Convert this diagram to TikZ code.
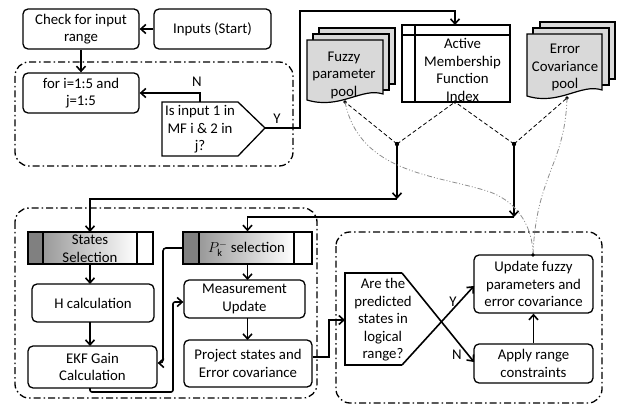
\documentclass[tikz,border=0pt]{standalone}
\usepackage{fontspec}
\setmainfont{Carlito}
\usetikzlibrary{arrows.meta}
\definecolor{docgray}{HTML}{D9D9D9}
\begin{document}
\begin{tikzpicture}[x=1pt,y=-1pt,
  font=\fontsize{14.8}{17.5}\selectfont,
  box/.style={draw, line width=1.3pt, rounded corners=5pt, align=center, inner sep=0pt},
  txt/.style={align=center, inner sep=0pt},
  conn/.style={line width=1.6pt, -{Straight Barb[length=5pt,width=9pt]}},
  plain/.style={line width=1.6pt},
  outl/.style={line width=1.3pt},
  region/.style={line width=1.3pt, rounded corners=14pt, dash pattern=on 7pt off 3pt on 1.5pt off 3pt},
  dline/.style={line width=0.8pt, dash pattern=on 4pt off 2.5pt},
  gline/.style={line width=0.8pt, black!45, dash pattern=on 5pt off 2pt on 1pt off 2pt on 1pt off 2pt},
  lbl/.style={inner sep=0pt},
  docst/.style={draw, line width=1.2pt, fill=docgray},
]
\useasboundingbox (0,0) rectangle (621,406);

% ---------- regions ----------
\draw[region] (15,62) rectangle (293,166);
\draw[region] (15,208) rectangle (317,398);
\draw[region] (336,232) rectangle (602,403);

% ---------- top part ----------
\node[box, minimum width=116pt, minimum height=40pt] (check) at (81,29) {Check for input\\range};
\node[box, minimum width=117pt, minimum height=40pt] (inputs) at (212.5,29) {Inputs (Start)};
\node[box, minimum width=116pt, minimum height=40pt] (for) at (81,93) {for i=1:5 and\\j=1:5};

\draw[outl] (162,102) -- (238,102) -- (265,128) -- (238,156) -- (162,156) -- cycle;
\node[txt] (dec1) at (200,129.5) {Is input 1 in\\MF i \& 2 in\\j?};
\coordinate (dec1tip) at (265,128);
\coordinate (dec1top) at (200,102);

\draw[conn] (inputs.west) -- (check.east);
\draw[conn] (check.south) -- (for.north);
\draw[conn] (dec1top) |- (for.east);
\node[lbl] (nlab) at (197,82) {N};
\node[lbl] (ylab) at (277,119) {Y};

% ---------- pools ----------
% fuzzy
\draw[docst] (319,28) rectangle (395,84);
\draw[docst] (313,34) rectangle (389,90);
\draw[docst] (307,40) -- (383,40) -- (383,94) .. controls (362,87) and (340,110) .. (307,100) -- cycle;
\node[txt] (fuzzy) at (344,75) {Fuzzy\\parameter\\pool};
\coordinate (fuzzyb) at (345,102);
% error
\draw[docst] (540,22) rectangle (615,79);
\draw[docst] (533,28) rectangle (609,85);
\draw[docst] (527,34) -- (602,34) -- (602,90) .. controls (581,83) and (559,106) .. (527,96) -- cycle;
\node[txt] (error) at (565,67.5) {Error\\Covariance\\pool};
\coordinate (errorb) at (567,98);
% active MF index
\node[draw, line width=1.3pt, minimum width=108pt, minimum height=77pt, inner sep=0pt] (amfi) at (456,63.5) {};
\draw[outl] (402,35) -- (510,35);
\draw[outl] (415,25) -- (415,102);
\node[txt] (amfit) at (462.5,70) {Active\\Membership\\Function\\Index};
\coordinate (amfib) at (455,102);
\coordinate (amfitop) at (455,25);

% Y connector to AMFI
\coordinate (ya) at (300,128);
\coordinate (yb) at (300,11);
\draw[conn] (dec1tip) -- (ya) -- (yb) -| (amfitop);

% junctions
\coordinate (jL) at (397,144);
\coordinate (jR) at (514,144);
\draw[dline] (jL) -- (fuzzyb);
\draw[dline] (jL) -- (amfib);
\draw[dline] (jR) -- (amfib);
\draw[dline] (jR) -- (errorb);
\fill (jL) circle (2.2pt);
\fill (jR) circle (2.2pt);
\fill (fuzzyb) circle (1.8pt);
\fill (amfib) circle (1.8pt);
\fill (errorb) circle (1.8pt);

% ---------- bottom-left ----------
\fill[black!50] (28,232) rectangle (43,264);
\shade[left color=black!40, right color=white] (43,232) rectangle (137,264);
\node[draw, line width=1.3pt, minimum width=125pt, minimum height=32pt, inner sep=0pt] (states) at (90.5,248) {};
\draw[outl] (43,232) -- (43,264);
\draw[outl] (137,232) -- (137,264);
\node[txt] (statest) at (90,249) {States\\Selection};

\fill[black!50] (183,232) rectangle (199,264);
\shade[left color=black!40, right color=white] (199,232) rectangle (294,264);
\node[draw, line width=1.3pt, minimum width=129pt, minimum height=32pt, inner sep=0pt] (pk) at (247.5,248) {};
\draw[outl] (199,232) -- (199,264);
\draw[outl] (294,232) -- (294,264);
\node[txt] (pkt) at (246.5,249) {$P_{\mathrm{k}}^{-}$ selection};

\node[box, minimum width=122pt, minimum height=38pt] (hcalc) at (93,303) {H calculation};
\node[box, minimum width=129pt, minimum height=42pt] (ekf) at (92.5,367) {EKF Gain\\Calculation};
\node[box, minimum width=121pt, minimum height=38pt] (meas) at (244.5,299) {Measurement\\Update};
\node[box, minimum width=128pt, minimum height=47pt] (proj) at (248,363.5) {Project states and\\Error covariance};

\coordinate (hL) at (397,199);
\coordinate (hR) at (514,217);
\draw[conn] (jL) -- (hL);
\draw[conn] (hL) -| (90,232);
\draw[conn] (jR) -- (hR);
\draw[conn] (hR) -| (pk.north);

\draw[conn] (90,264) -- (90,284);
\draw[conn] (90,322) -- (90,346);
\draw[conn] (pk.south) -- (247.5,280);
\draw[conn] (247.5,318) -- (247.5,340);

\draw[conn, rounded corners=3pt] (pk.west) -- (163,248) -- (163,363) -- (ekf.east |- 0,363);
\draw[conn, rounded corners=2pt] (90,388) -- (90,392) -- (173,392) -- (173,302) -- (meas.west |- 0,302);

% ---------- bottom-right ----------
\node[box, minimum width=119pt, minimum height=58pt] (update) at (533.5,284) {Update fuzzy\\parameters and\\error covariance};
\node[box, minimum width=119pt, minimum height=39pt] (apply) at (533.5,363.5) {Apply range\\constraints};

\draw[outl] (402,365) -- (345,365) -- (345,273) -- (402,273);
\node[txt] (dec2) at (383,320) {Are the\\predicted\\states in\\logical\\range?};
\coordinate (dec2tl) at (402,273);
\coordinate (dec2bl) at (402,365);
\coordinate (dec2in) at (345,320);

\draw[conn] (proj.east |- 0,357) -- (329,357) -- (329,320) -- (dec2in);
\draw[conn] (dec2bl) -- (474,286);
\draw[conn] (dec2tl) -- (474,362);
\node[lbl] (y2lab) at (453,302) {Y};
\node[lbl] (n2lab) at (457,355) {N};
\draw[conn] (apply.north) -- (update.south);

% ---------- gray curves ----------
\coordinate (upt) at (533,255);
\draw[gline] (fuzzyb) .. controls (360,175) and (440,175) .. (490,192) .. controls (520,203) and (533,230) .. (upt);
\draw[gline] (errorb) .. controls (565,165) and (536,175) .. (upt);
\fill (upt) circle (1.8pt);
\end{tikzpicture}
\end{document}
